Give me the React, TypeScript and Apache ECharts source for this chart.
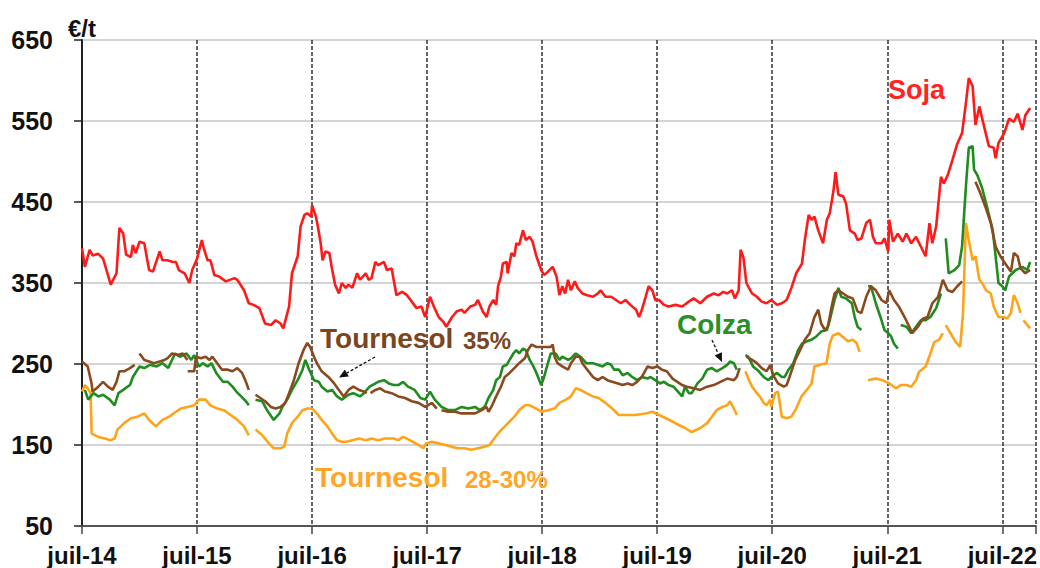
import React, { useEffect, useRef } from "react";
import * as echarts from "echarts";

// x = months since July 2014
const yearLabels = ["juil-14", "juil-15", "juil-16", "juil-17", "juil-18", "juil-19", "juil-20", "juil-21", "juil-22"];
const yTicks = [50, 150, 250, 350, 450, 550, 650];

const soja: [number, number | null][] = [[0,393],[0.3,370],[0.8,391],[1.1,384],[1.7,386],[2.2,380],[3.0,348],[3.6,362],[3.9,418],[4.3,411],[4.6,385],[5.1,382],[5.3,397],[5.6,387],[6.0,401],[6.5,399],[7.0,366],[7.4,364],[8.1,389],[8.4,378],[8.9,378],[9.5,376],[9.8,376],[10.1,366],[10.7,362],[11.2,350],[11.5,366],[12.0,380],[12.5,403],[12.7,393],[13.1,378],[13.4,378],[13.8,360],[14.3,358],[15.0,352],[15.9,356],[16.2,354],[16.9,341],[17.4,325],[17.9,323],[18.5,319],[19.1,300],[19.7,298],[20.2,304],[20.7,300],[21.0,294],[21.6,321],[21.9,362],[22.5,383],[22.8,420],[23.2,434],[23.5,436],[23.9,432],[24.0,446],[24.4,432],[24.6,420],[24.9,399],[25.1,378],[25.4,389],[25.8,387],[26.1,366],[26.4,348],[26.8,337],[27.1,350],[27.5,344],[27.8,348],[28.2,344],[28.7,362],[29.0,354],[29.6,362],[29.9,354],[30.2,356],[30.6,376],[30.9,372],[31.5,376],[31.8,366],[32.3,368],[32.8,335],[33.4,339],[33.9,335],[34.4,327],[34.9,319],[35.4,321],[35.8,308],[36.3,333],[36.7,321],[37.2,308],[37.7,302],[38.0,296],[38.6,308],[39.1,315],[39.6,317],[39.9,313],[40.5,321],[41.0,323],[41.3,329],[41.8,315],[42.2,308],[42.5,321],[42.9,329],[43.2,323],[43.4,346],[43.7,358],[43.9,374],[44.3,376],[44.4,362],[44.8,387],[45.1,383],[45.3,399],[45.6,397],[46.0,415],[46.3,403],[46.7,407],[47.0,401],[47.4,383],[47.9,366],[48.2,360],[48.6,364],[49.1,370],[49.5,358],[49.8,335],[50.1,346],[50.4,337],[50.7,354],[51.0,341],[51.4,352],[51.7,344],[52.2,337],[52.7,335],[53.3,333],[53.8,337],[54.1,341],[54.6,333],[55.2,333],[55.7,329],[56.2,325],[56.7,329],[57.2,323],[57.8,317],[58.1,308],[58.4,317],[58.8,333],[59.1,346],[59.5,341],[59.8,329],[60.2,329],[60.7,323],[61.2,321],[61.9,323],[62.6,321],[63.3,327],[63.8,331],[64.5,325],[65.2,333],[65.9,337],[66.4,335],[66.9,339],[67.3,337],[67.8,341],[68.1,331],[68.5,341],[68.7,391],[69.0,381],[69.3,350],[69.9,337],[70.4,333],[70.9,327],[71.4,325],[71.9,329],[72.5,323],[73.0,325],[73.5,329],[74.0,344],[74.5,362],[75.1,374],[75.4,403],[75.8,434],[76.1,428],[76.4,432],[76.8,415],[77.3,399],[77.7,428],[78.0,436],[78.4,465],[78.6,487],[78.9,459],[79.4,457],[79.7,448],[80.1,415],[80.6,411],[80.9,403],[81.3,405],[81.8,424],[82.2,428],[82.5,407],[82.8,399],[83.4,399],[83.7,405],[84.1,389],[84.2,428],[84.6,401],[85.1,411],[85.6,401],[86.0,411],[86.5,399],[87.0,407],[87.5,395],[88.0,383],[88.4,424],[88.7,399],[89.1,420],[89.6,481],[89.9,473],[90.3,483],[90.8,502],[91.3,522],[91.8,535],[92.2,572],[92.5,603],[92.9,593],[93.2,545],[93.6,568],[94.1,543],[94.6,519],[95.1,517],[95.3,504],[95.6,523],[96.2,535],[96.7,553],[97.2,549],[97.6,559],[98.1,539],[98.4,557],[98.9,566]];

const colza: [number, number | null][] = [[0.3,218],[0.65,206],[1.2,214],[1.7,210],[2.2,212],[2.9,206],[3.4,199],[3.8,214],[4.3,218],[5.0,224],[5.3,234],[6.0,247],[6.5,245],[7.1,249],[7.8,247],[8.4,251],[9.0,245],[9.7,263],[10.2,259],[10.9,263],[11.4,255],[11.7,261],[12.2,247],[12.6,251],[13.1,247],[13.5,251],[14.0,239],[14.7,228],[15.2,228],[15.7,222],[16.1,216],[16.6,210],[17.1,204],[17.4,199],[17.7,null],[18.1,206],[18.8,204],[19.3,193],[20.0,181],[20.6,189],[20.9,197],[21.4,206],[21.9,218],[22.5,230],[23.0,243],[23.3,255],[23.7,243],[24.2,230],[24.7,228],[25.0,222],[25.6,216],[26.1,218],[26.6,210],[27.1,206],[27.8,212],[28.3,214],[29.0,210],[29.4,214],[30.0,222],[30.9,228],[31.5,230],[32.0,226],[32.5,224],[33.0,224],[33.5,228],[34.0,222],[34.7,218],[35.3,208],[35.8,206],[36.3,216],[36.8,206],[37.5,197],[38.2,193],[38.9,193],[39.6,197],[40.3,195],[41.0,197],[41.5,193],[42.0,197],[42.4,208],[42.9,218],[43.2,230],[43.6,234],[43.9,247],[44.3,249],[44.6,255],[45.0,263],[45.3,267],[45.6,263],[46.0,269],[46.3,267],[46.7,255],[47.0,249],[47.4,239],[47.9,224],[48.2,234],[48.6,251],[48.9,263],[49.4,263],[49.8,255],[50.1,259],[50.7,255],[51.0,257],[51.5,263],[52.0,259],[52.6,251],[53.3,251],[53.8,249],[54.3,247],[54.8,251],[55.2,249],[55.5,243],[56.0,243],[56.4,236],[56.9,239],[57.4,234],[57.9,230],[58.4,234],[59.0,232],[59.3,234],[59.8,230],[60.3,226],[60.7,228],[61.2,224],[61.7,222],[62.3,214],[62.6,210],[62.9,222],[63.3,214],[63.6,214],[64.2,226],[64.7,232],[65.2,243],[65.7,245],[66.2,241],[66.8,245],[67.3,249],[67.6,253],[68.0,251],[68.3,243],[68.7,null],[69.2,261],[69.5,259],[70.0,247],[70.6,241],[71.1,234],[71.6,230],[71.9,234],[72.5,239],[73.0,234],[73.3,234],[73.7,243],[74.2,251],[74.7,267],[75.1,275],[75.6,278],[76.1,280],[76.6,284],[77.1,290],[77.7,292],[78.0,304],[78.5,329],[78.9,344],[79.2,333],[79.7,331],[80.3,325],[80.6,308],[80.9,296],[81.3,292],[81.6,null],[82.0,346],[82.3,346],[82.8,325],[83.4,304],[83.7,292],[84.1,288],[84.4,284],[84.7,275],[85.1,269],[85.2,null],[85.4,298],[86.0,296],[86.5,288],[87.0,296],[87.5,304],[88.0,304],[88.5,308],[89.1,319],[89.6,337],[89.8,null],[90.1,405],[90.4,362],[91.0,366],[91.5,372],[91.8,395],[92.2,469],[92.5,517],[92.9,519],[93.05,490],[93.4,483],[93.9,467],[94.4,444],[95.0,415],[95.3,383],[95.6,350],[96.0,346],[96.3,341],[96.7,358],[97.4,366],[98.1,370],[98.6,366],[98.9,376]];

const tournesol35: [number, number | null][] = [[0,253],[0.6,247],[1.0,226],[1.1,216],[1.7,222],[2.2,228],[2.7,222],[3.2,218],[3.6,228],[3.9,241],[4.4,241],[5.0,245],[5.5,249],[5.7,null],[6.0,263],[6.5,255],[7.0,253],[7.5,251],[8.1,253],[8.6,255],[8.9,257],[9.4,263],[10.0,261],[10.5,263],[11.0,255],[11.01,null],[11.02,241],[11.7,241],[11.9,259],[12.4,257],[12.9,259],[13.3,255],[13.6,259],[14.1,251],[14.6,243],[15.2,243],[15.7,241],[16.2,245],[16.7,239],[17.1,228],[17.4,218],[17.7,null],[18.1,212],[18.6,208],[19.1,204],[19.7,197],[20.2,195],[20.7,197],[21.2,202],[21.6,214],[22.1,230],[22.6,251],[23.1,267],[23.5,276],[23.8,271],[24.2,259],[24.5,251],[25.0,241],[25.7,234],[26.3,226],[26.8,218],[27.3,210],[27.8,218],[28.3,222],[28.9,218],[29.4,216],[29.7,214],[29.9,null],[30.1,214],[30.6,218],[31.1,220],[31.6,216],[32.3,214],[33.0,210],[33.7,208],[34.4,204],[35.1,202],[35.8,197],[36.5,202],[37.0,195],[37.2,null],[37.5,193],[38.2,191],[38.9,191],[39.6,189],[40.3,189],[41.0,189],[41.7,193],[42.2,197],[42.4,191],[42.7,197],[43.2,210],[43.7,222],[44.1,234],[44.6,239],[45.1,245],[45.6,251],[46.2,257],[46.5,267],[46.9,274],[47.4,271],[47.9,271],[48.4,271],[48.9,271],[49.1,274],[49.3,259],[49.6,251],[50.1,247],[50.7,243],[51.0,251],[51.5,259],[51.9,259],[52.2,251],[52.7,243],[53.3,234],[53.8,230],[54.3,234],[54.8,230],[55.3,228],[55.9,226],[56.4,224],[56.9,226],[57.4,224],[57.9,228],[58.4,234],[59.0,247],[59.5,245],[60.0,247],[60.5,243],[61.0,241],[61.6,232],[62.1,228],[62.6,224],[63.1,222],[63.8,220],[64.5,218],[65.2,222],[65.9,224],[66.6,228],[67.3,232],[68.0,230],[68.3,234],[68.6,245],[68.9,null],[69.3,259],[69.9,255],[70.4,251],[70.9,245],[71.4,241],[71.8,249],[72.1,236],[72.6,226],[73.2,222],[73.5,224],[73.8,234],[74.4,255],[74.9,267],[75.4,280],[75.9,288],[76.4,308],[76.8,317],[77.1,300],[77.5,292],[77.8,296],[78.2,321],[78.5,337],[78.9,341],[79.4,337],[79.9,333],[80.4,331],[80.9,315],[81.3,313],[81.8,333],[82.3,346],[82.8,341],[83.4,329],[83.9,325],[84.2,341],[84.7,329],[85.2,321],[85.8,308],[86.3,296],[86.6,288],[87.2,296],[87.7,306],[88.2,308],[88.7,325],[89.3,333],[89.8,354],[90.3,341],[90.8,339],[91.3,346],[91.8,352],[92.5,null],[93.2,475],[93.7,461],[94.3,442],[94.8,424],[95.3,395],[95.8,383],[96.3,374],[96.9,364],[97.2,387],[97.6,383],[97.9,368],[98.4,362],[98.9,366]];

const tournesol2830: [number, number | null][] = [[0,216],[0.3,224],[0.6,220],[0.9,214],[1.0,164],[1.7,160],[2.4,158],[3.0,156],[3.4,158],[3.7,169],[4.4,177],[5.1,183],[5.8,185],[6.5,189],[7.0,181],[7.7,173],[8.4,181],[9.1,185],[9.8,191],[10.3,195],[11.0,197],[11.7,199],[12.2,206],[12.9,206],[13.4,199],[14.1,195],[14.8,193],[15.5,187],[16.2,181],[16.9,173],[17.4,162],[17.7,null],[18.1,169],[18.8,162],[19.5,152],[20.0,146],[20.7,146],[21.1,148],[21.4,164],[21.9,177],[22.5,185],[23.0,193],[23.5,195],[24.0,195],[24.5,189],[25.0,181],[25.6,173],[26.1,164],[26.6,156],[27.1,154],[27.6,154],[28.2,156],[28.9,158],[29.6,156],[30.2,158],[30.9,156],[31.6,158],[32.5,158],[33.0,156],[33.5,160],[34.2,156],[35.1,150],[35.6,146],[35.9,152],[36.5,154],[37.2,152],[37.9,150],[38.5,148],[39.2,146],[39.9,146],[40.6,144],[41.3,146],[42.0,148],[42.5,150],[43.0,158],[43.6,167],[44.1,173],[44.6,179],[45.1,185],[45.6,193],[46.2,199],[46.7,199],[47.4,195],[47.9,191],[48.6,193],[49.3,195],[49.8,202],[50.5,206],[51.0,210],[51.5,220],[52.0,218],[52.6,214],[53.3,210],[53.9,208],[54.6,202],[55.3,195],[56.0,187],[56.7,187],[57.7,187],[58.8,189],[59.5,191],[60.2,187],[60.9,183],[61.6,179],[62.2,175],[62.9,171],[63.6,166],[64.5,171],[65.2,177],[65.7,185],[66.2,193],[66.8,197],[67.3,199],[67.6,204],[68.0,195],[68.3,187],[68.7,null],[69.2,241],[69.5,232],[69.9,222],[70.4,214],[70.7,210],[71.1,202],[71.4,199],[71.8,206],[71.9,197],[72.3,214],[72.6,216],[73.0,185],[73.5,183],[74.0,185],[74.5,195],[75.05,210],[75.6,218],[76.1,226],[76.4,247],[77.0,249],[77.65,251],[78.0,275],[78.3,285],[78.9,288],[79.4,283],[79.9,278],[80.4,280],[80.8,276],[81.1,265],[81.5,null],[82.0,230],[82.8,232],[83.5,230],[84.2,226],[84.9,220],[85.4,224],[86.0,224],[86.5,222],[87.0,230],[87.3,240],[88.0,247],[88.5,263],[88.9,277],[89.4,280],[89.8,288],[89.95,null],[90.1,298],[90.6,288],[91.1,278],[91.6,271],[91.9,313],[92.2,424],[92.5,403],[92.9,378],[93.2,383],[93.6,354],[93.9,350],[94.3,341],[94.8,337],[95.1,321],[95.6,308],[96.2,308],[96.5,306],[96.9,313],[97.2,335],[97.6,325],[97.9,313],[98.05,null],[98.2,304],[98.9,294]];

const FONT = '"Liberation Sans", Arial, sans-serif';
const RED = "#ff1a1a";
const GREEN = "#1e8c1e";
const BROWN = "#8b4a1e";
const ORANGE = "#ffa31a";

function toData(arr: [number, number | null][]) {
  return arr.map(([m, v]) => [m, v === null ? "-" : v]);
}

function arrow(tail: [number, number], tip: [number, number]) {
  const dx = tip[0] - tail[0];
  const dy = tip[1] - tail[1];
  const len = Math.sqrt(dx * dx + dy * dy);
  const ux = dx / len, uy = dy / len;
  const hl = 9, hw = 4;
  const bx = tip[0] - ux * hl, by = tip[1] - uy * hl;
  const px = -uy * hw, py = ux * hw;
  return [
    { type: "line", shape: { x1: tail[0], y1: tail[1], x2: bx, y2: by }, style: { stroke: "#111", lineWidth: 1.3, lineDash: [3, 2] }, z: 100 },
    { type: "polygon", shape: { points: [[tip[0], tip[1]], [bx + px, by + py], [bx - px, by - py]] }, style: { fill: "#111" }, z: 100 },
  ];
}

function text(x: number, y: number, t: string, color: string, size: number) {
  return {
    type: "text", x, y, z: 100,
    style: { text: t, fill: color, fontSize: size, fontWeight: "bold", fontFamily: FONT, verticalAlign: "middle", align: "left" },
  };
}

export default function App() {
  const ref = useRef<HTMLDivElement>(null);
  useEffect(() => {
    const chart = echarts.init(ref.current!, null, { renderer: "svg" });
    const mk = (name: string, data: [number, number | null][], color: string, z: number) => ({
      name, type: "line", data: toData(data), showSymbol: false, symbol: "none", connectNulls: false,
      lineStyle: { color, width: 2.6 }, itemStyle: { color }, z, silent: true,
    });
    chart.setOption({
      animation: false,
      backgroundColor: "#fff",
      grid: { left: 82, top: 40, right: 0, bottom: 42, containLabel: false },
      xAxis: {
        type: "value", min: 0, max: 99.5, interval: 12,
        axisLine: { show: true, lineStyle: { color: "#555", width: 2 } },
        axisTick: { show: true, length: 8, lineStyle: { color: "#444", width: 1.5 } },
        axisLabel: {
          margin: 17, fontSize: 24, fontWeight: "bold", fontFamily: FONT, color: "#111",
          formatter: (v: number) => (v % 12 === 0 ? yearLabels[v / 12] : ""),
        },
        splitLine: { show: true, lineStyle: { color: "#333", width: 1.5, type: [4, 2] } },
      },
      yAxis: {
        type: "value", min: yTicks[0], max: yTicks[yTicks.length - 1], interval: 100,
        axisLine: { show: true, lineStyle: { color: "#222", width: 2 } },
        axisTick: { show: true, length: 8, lineStyle: { color: "#222", width: 1.5 } },
        axisLabel: { margin: 29, fontSize: 25, fontWeight: "bold", fontFamily: FONT, color: "#111" },
        splitLine: { show: true, lineStyle: { color: "#d4d4d4", width: 2 } },
      },
      series: [
        mk("Tournesol 28-30%", tournesol2830, ORANGE, 2),
        mk("Colza", colza, GREEN, 3),
        mk("Tournesol 35%", tournesol35, BROWN, 4),
        mk("Soja", soja, RED, 5),
      ],
      graphic: [
        text(68, 28, "€/t", "#111", 24),
        text(888, 90, "Soja", "#ff2424", 27),
        text(677, 324, "Colza", "#2a8f2a", 28),
        text(320, 338, "Tournesol", "#7a4520", 28),
        text(463, 340, "35%", "#7a4520", 24),
        text(315, 477, "Tournesol", "#ffa628", 28),
        text(465, 479, "28-30%", "#ffa628", 24),
        ...arrow([375, 357], [339, 377.5]),
        ...arrow([712, 340], [722, 362]),
      ],
    });
    return () => chart.dispose();
  }, []);
  return (
    <div
      ref={ref}
      style={{ position: "absolute", left: 0, top: 0, width: 1040, height: 568, background: "#fff" }}
    />
  );
}
